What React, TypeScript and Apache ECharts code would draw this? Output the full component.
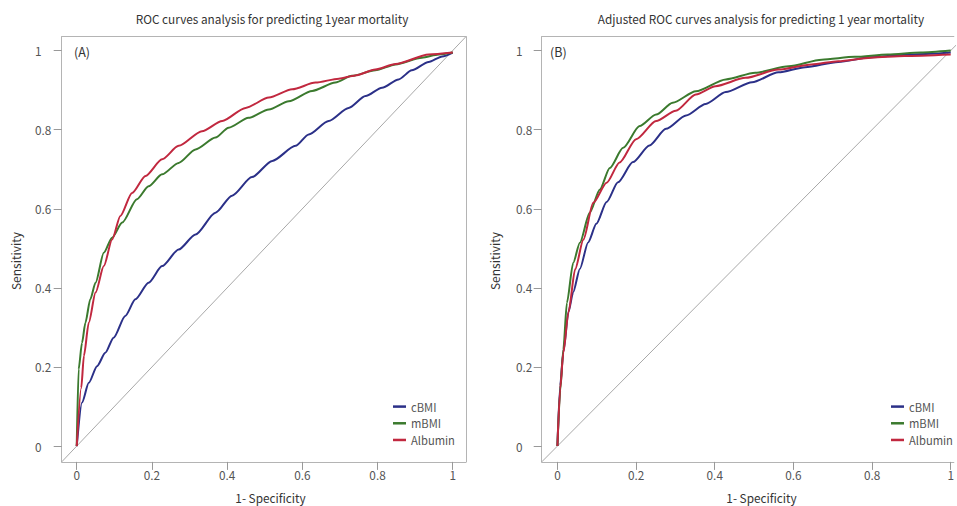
import React, { useEffect, useRef } from "react";
import * as echarts from "echarts";

const tickValues = [0, 0.2, 0.4, 0.6, 0.8, 1];
const seriesNames = ["cBMI", "mBMI", "Albumin"];
const colors = ["#2b3088", "#3b7a2e", "#c1283f"];
const titles = [
  "ROC curves analysis for predicting 1year mortality",
  "Adjusted ROC curves analysis for predicting 1 year mortality",
];
const panelLabels = ["(A)", "(B)"];
const xAxisName = "1- Specificity";
const yAxisName = "Sensitivity";

const a_cBMI = [
  [0, 0], [0.014, 0.11], [0.032, 0.16], [0.054, 0.202], [0.076, 0.236], [0.098, 0.274],
  [0.129, 0.329], [0.156, 0.371], [0.191, 0.413], [0.227, 0.455], [0.271, 0.497],
  [0.316, 0.535], [0.369, 0.59], [0.413, 0.633], [0.466, 0.68], [0.52, 0.721],
  [0.582, 0.759], [0.617, 0.788], [0.67, 0.822], [0.723, 0.855], [0.768, 0.885],
  [0.812, 0.906], [0.856, 0.927], [0.891, 0.95], [0.936, 0.971], [0.972, 0.985], [1, 0.995],
];
const a_mBMI = [
  [0, 0], [0.005, 0.194], [0.014, 0.261], [0.023, 0.312], [0.036, 0.371], [0.05, 0.413],
  [0.072, 0.489], [0.094, 0.527], [0.121, 0.565], [0.16, 0.624], [0.191, 0.657],
  [0.227, 0.687], [0.271, 0.716], [0.316, 0.75], [0.369, 0.78], [0.404, 0.805],
  [0.457, 0.83], [0.511, 0.851], [0.564, 0.872], [0.626, 0.898], [0.688, 0.919],
  [0.732, 0.936], [0.794, 0.95], [0.848, 0.965], [0.918, 0.982], [0.963, 0.99], [1, 0.995],
];
const a_Albumin = [
  [0, 0], [0.012, 0.147], [0.019, 0.228], [0.032, 0.312], [0.05, 0.388], [0.072, 0.455],
  [0.094, 0.522], [0.116, 0.582], [0.147, 0.64], [0.183, 0.683], [0.227, 0.725],
  [0.271, 0.759], [0.333, 0.796], [0.387, 0.822], [0.449, 0.855], [0.511, 0.881],
  [0.573, 0.902], [0.635, 0.919], [0.697, 0.929], [0.741, 0.937], [0.794, 0.952],
  [0.848, 0.966], [0.936, 0.99], [1, 0.995],
];

const b_cBMI = [
  [0, 0], [0.007, 0.153], [0.015, 0.238], [0.028, 0.339], [0.04, 0.389], [0.057, 0.448],
  [0.078, 0.515], [0.099, 0.562], [0.125, 0.617], [0.154, 0.667], [0.192, 0.718],
  [0.234, 0.76], [0.276, 0.802], [0.327, 0.836], [0.377, 0.865], [0.428, 0.895],
  [0.495, 0.92], [0.562, 0.945], [0.63, 0.958], [0.714, 0.971], [0.798, 0.983],
  [0.882, 0.989], [0.949, 0.992], [1, 0.995],
];
const b_mBMI = [
  [0, 0], [0.007, 0.14], [0.015, 0.244], [0.024, 0.362], [0.04, 0.463], [0.057, 0.514],
  [0.082, 0.59], [0.108, 0.649], [0.133, 0.703], [0.167, 0.754], [0.209, 0.809],
  [0.251, 0.838], [0.293, 0.868], [0.352, 0.897], [0.428, 0.927], [0.503, 0.944],
  [0.588, 0.96], [0.672, 0.977], [0.756, 0.984], [0.84, 0.99], [0.924, 0.995], [1, 1.0],
];
const b_Albumin = [
  [0, 0], [0.007, 0.145], [0.015, 0.236], [0.028, 0.338], [0.045, 0.447], [0.066, 0.522],
  [0.091, 0.615], [0.125, 0.666], [0.158, 0.717], [0.2, 0.776], [0.251, 0.822],
  [0.301, 0.848], [0.352, 0.889], [0.402, 0.91], [0.478, 0.931], [0.562, 0.952],
  [0.646, 0.965], [0.714, 0.973], [0.798, 0.982], [0.882, 0.986], [1, 0.99],
];

const panelData = [
  [a_cBMI, a_mBMI, a_Albumin],
  [b_cBMI, b_mBMI, b_Albumin],
];

const FONT = "'Noto Sans CJK KR', 'Noto Sans', sans-serif";
const FRAME = "#b4b4b4";

export default function App() {
  const ref = useRef<HTMLDivElement>(null);
  useEffect(() => {
    if (!ref.current) return;
    const chart = echarts.init(ref.current, undefined, { renderer: "svg" });

    const xMin = -0.04;
    const yMin = -0.04;
    const yMax = 1.035;
    const xMaxs = [1.035, 1.008];
    const grids = [
      { left: 61.7, top: 36.7, width: 404.2, height: 425.2 },
      { left: 541.7, top: 36.7, width: 415, height: 425.2 },
    ];
    const labelMargins = [26.7, 25.7];

    const series: any[] = [];
    [0, 1].forEach((p) => {
      series.push({
        type: "line",
        name: "ref" + p,
        xAxisIndex: p,
        yAxisIndex: p,
        data: [[xMin, yMin], [yMax, yMax]],
        showSymbol: false,
        silent: true,
        lineStyle: { color: "#a8a8a8", width: 1 },
        z: 1,
      });
      panelData[p].forEach((d, i) => {
        series.push({
          type: "line",
          name: seriesNames[i],
          xAxisIndex: p,
          yAxisIndex: p,
          data: d,
          showSymbol: false,
          smooth: 0.25,
          smoothMonotone: "x",
          color: colors[i],
          lineStyle: { color: colors[i], width: 2 },
          z: 2 + i,
        });
      });
    });

    const textStyle = { fontFamily: FONT, color: "#555", fontSize: 11.8 };
    const fmt = (v: number) => String(Math.round(v * 10) / 10);

    const xAxes: any[] = [0, 1].map((p) => ({
      type: "value",
      gridIndex: p,
      min: xMin,
      max: xMaxs[p],
      position: "bottom",
      axisLine: { show: true, onZero: false, lineStyle: { color: FRAME } },
      splitLine: { show: false },
      axisTick: {
        show: true,
        length: 8,
        inside: false,
        customValues: tickValues,
        lineStyle: { color: "#999" },
      },
      axisLabel: { customValues: tickValues, margin: 7, ...textStyle, formatter: fmt },
    }));
    // top frame lines
    [0, 1].forEach((p) => {
      xAxes.push({
        type: "value",
        gridIndex: p,
        min: xMin,
        max: xMaxs[p],
        position: "top",
        axisLine: { show: true, onZero: false, lineStyle: { color: FRAME } },
        splitLine: { show: false },
        axisTick: { show: false },
        axisLabel: { show: false },
      });
    });

    const yAxes: any[] = [0, 1].map((p) => ({
      type: "value",
      gridIndex: p,
      min: yMin,
      max: yMax,
      position: "left",
      axisLine: { show: true, onZero: false, lineStyle: { color: FRAME } },
      splitLine: { show: false },
      axisTick: {
        show: true,
        length: 8,
        inside: false,
        customValues: tickValues,
        lineStyle: { color: "#999" },
      },
      axisLabel: {
        customValues: tickValues,
        margin: labelMargins[p],
        align: "left",
        ...textStyle,
        formatter: fmt,
      },
    }));
    // right frame line only for panel A (panel B's right edge is outside the picture)
    yAxes.push({
      type: "value",
      gridIndex: 0,
      min: yMin,
      max: yMax,
      position: "right",
      axisLine: { show: true, onZero: false, lineStyle: { color: FRAME } },
      splitLine: { show: false },
      axisTick: { show: false },
      axisLabel: { show: false },
    });

    const option: any = {
      animation: false,
      grid: grids.map((g) => ({ ...g, show: false })),
      xAxis: xAxes,
      yAxis: yAxes,
      legend: [388, 886].map((left) => ({
        data: seriesNames,
        orient: "vertical",
        left,
        top: 396,
        itemWidth: 13,
        itemHeight: 2.5,
        itemGap: 5.5,
        icon: "rect",
        selectedMode: false,
        textStyle: { fontFamily: FONT, color: "#555", fontSize: 11.2 },
      })),
      series,
      graphic: [
        ...[272, 761].map((x, p) => ({
          type: "text",
          x,
          y: 18,
          style: {
            text: titles[p],
            align: "center",
            verticalAlign: "middle",
            fontFamily: FONT,
            fontSize: 11.8,
            fill: "#333",
          },
        })),
        ...[74, 550].map((x, p) => ({
          type: "text",
          x,
          y: 51,
          style: {
            text: panelLabels[p],
            align: "left",
            verticalAlign: "middle",
            fontFamily: FONT,
            fontSize: 12.5,
            fill: "#333",
          },
        })),
        ...[270.5, 761.5].map((x) => ({
          type: "text",
          x,
          y: 497,
          style: {
            text: xAxisName,
            align: "center",
            verticalAlign: "middle",
            fontFamily: FONT,
            fontSize: 11.8,
            fill: "#333",
          },
        })),
        ...[15, 494].map((x) => ({
          type: "text",
          x,
          y: 261,
          rotation: Math.PI / 2,
          style: {
            text: yAxisName,
            align: "center",
            verticalAlign: "middle",
            fontFamily: FONT,
            fontSize: 12,
            fill: "#333",
          },
        })),
      ],
    };

    chart.setOption(option);
    return () => chart.dispose();
  }, []);

  return (
    <div
      ref={ref}
      style={{ position: "fixed", left: 0, top: 0, width: 957, height: 506, background: "#fff" }}
    />
  );
}
